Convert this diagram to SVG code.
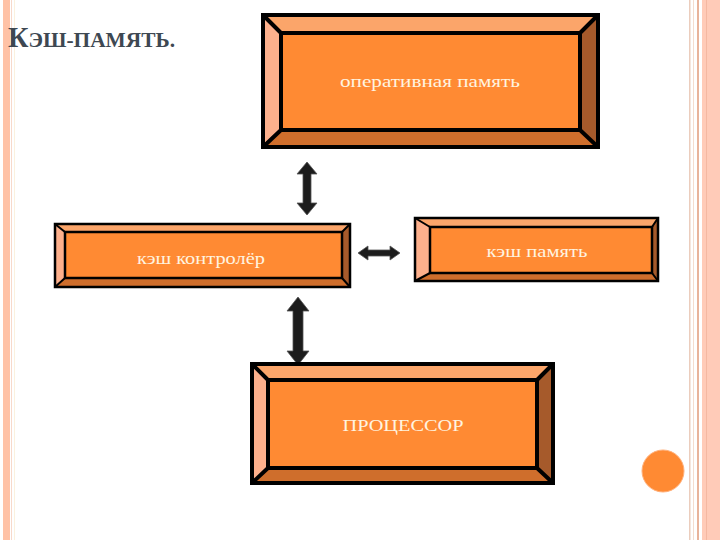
<svg xmlns="http://www.w3.org/2000/svg" width="720" height="540" viewBox="0 0 720 540">
<style>
.face{fill:#FF8A33}
.bt{fill:#FBA56A}
.bl{fill:#FDB08C}
.br{fill:#A65A2B}
.bb{fill:#CF6E2C}
.ln{fill:none;stroke:#000;stroke-linejoin:miter}
.lbl{font-family:"Liberation Serif","DejaVu Serif",serif;fill:#FFF4E0;text-anchor:middle}
.arr{fill:#1C1C1C;stroke:#555;stroke-width:0.8}
</style>
<rect width="720" height="540" fill="#fff"/>
<g id="decor">
<rect x="3" y="0" width="7" height="540" fill="#FFC2A6"/>
<rect x="11" y="0" width="1" height="540" fill="#F7D9CB"/>
<rect x="14" y="0" width="1" height="540" fill="#FBF1DE"/>
<rect x="689" y="0" width="1.5" height="540" fill="#EBCDBD"/>
<rect x="693" y="0" width="1" height="540" fill="#F4DDD0"/>
<rect x="697" y="0" width="2" height="540" fill="#E8B49C"/>
<rect x="702" y="0" width="18" height="540" fill="#FFCBB8"/>
<rect x="706" y="0" width="1" height="540" fill="#F4B8A2"/>
</g>
<g id="title">
<text x="8" y="47" font-family="Liberation Serif, DejaVu Serif, serif" font-weight="bold" fill="#3E4852" textLength="167" lengthAdjust="spacingAndGlyphs"><tspan font-size="29">К</tspan><tspan font-size="22">ЭШ-ПАМЯТЬ.</tspan></text>
</g>
<g id="connectors">
<polygon class="arr" points="307,162 317,174 311,174 311,203 317,203 307,215 297,203 303,203 303,174 297,174"/>
<polygon class="arr" points="298,297 309,311 303,311 303,351 309,351 298,365 287,351 293,351 293,311 287,311"/>
<polygon class="arr" points="358,253 368,246 368,250 390,250 390,246 400,253 390,260 390,256 368,256 368,260"/>
</g>
<g id="ram">
<rect class="face" x="263" y="15" width="335" height="132"/>
<polygon class="bt" points="263,15 598,15 580,33 281,33"/>
<polygon class="bl" points="263,15 281,33 281,130 263,147"/>
<polygon class="br" points="598,15 598,147 580,130 580,33"/>
<polygon class="bb" points="263,147 281,130 580,130 598,147"/>
<rect class="ln" x="263" y="15" width="335" height="132" stroke-width="4"/>
<rect class="ln" x="281" y="33" width="299" height="97" stroke-width="4"/>
<path class="ln" stroke-width="4" d="M263,15L281,33M598,15L580,33M263,147L281,130M598,147L580,130"/>
<text class="lbl" x="430" y="87" font-size="17" textLength="180" lengthAdjust="spacingAndGlyphs">оперативная память</text>
</g>
<g id="controller">
<rect class="face" x="55" y="224" width="295" height="63"/>
<polygon class="bt" points="55,224 350,224 342,232 65,232"/>
<polygon class="bl" points="55,224 65,232 65,278 55,287"/>
<polygon class="br" points="350,224 350,287 342,278 342,232"/>
<polygon class="bb" points="55,287 65,278 342,278 350,287"/>
<rect class="ln" x="55" y="224" width="295" height="63" stroke-width="2.5"/>
<rect class="ln" x="65" y="232" width="277" height="46" stroke-width="2.5"/>
<path class="ln" stroke-width="2" d="M55,224L65,232M350,224L342,232M55,287L65,278M350,287L342,278"/>
<text class="lbl" x="201" y="264" font-size="17" textLength="128" lengthAdjust="spacingAndGlyphs">кэш контролёр</text>
</g>
<g id="cache">
<rect class="face" x="415" y="218" width="243" height="63"/>
<polygon class="bt" points="415,218 658,218 652,227 430,227"/>
<polygon class="bl" points="415,218 430,227 430,273 415,281"/>
<polygon class="br" points="658,218 658,281 652,273 652,227"/>
<polygon class="bb" points="415,281 430,273 652,273 658,281"/>
<rect class="ln" x="415" y="218" width="243" height="63" stroke-width="2.5"/>
<rect class="ln" x="430" y="227" width="222" height="46" stroke-width="2.5"/>
<path class="ln" stroke-width="2" d="M415,218L430,227M658,218L652,227M415,281L430,273M658,281L652,273"/>
<text class="lbl" x="537" y="257" font-size="17" textLength="101" lengthAdjust="spacingAndGlyphs">кэш память</text>
</g>
<g id="cpu">
<rect class="face" x="252" y="364" width="301" height="119"/>
<polygon class="bt" points="252,364 553,364 537,380 268,380"/>
<polygon class="bl" points="252,364 268,380 268,468 252,483"/>
<polygon class="br" points="553,364 553,483 537,468 537,380"/>
<polygon class="bb" points="252,483 268,468 537,468 553,483"/>
<rect class="ln" x="252" y="364" width="301" height="119" stroke-width="4"/>
<rect class="ln" x="268" y="380" width="269" height="88" stroke-width="4"/>
<path class="ln" stroke-width="4" d="M252,364L268,380M553,364L537,380M252,483L268,468M553,483L537,468"/>
<text class="lbl" x="403" y="431" font-size="17" textLength="121" lengthAdjust="spacingAndGlyphs">ПРОЦЕССОР</text>
</g>
<circle id="dot" cx="663" cy="471" r="21" fill="#FF8A33" stroke="#FFB07A" stroke-width="1"/>
</svg>
